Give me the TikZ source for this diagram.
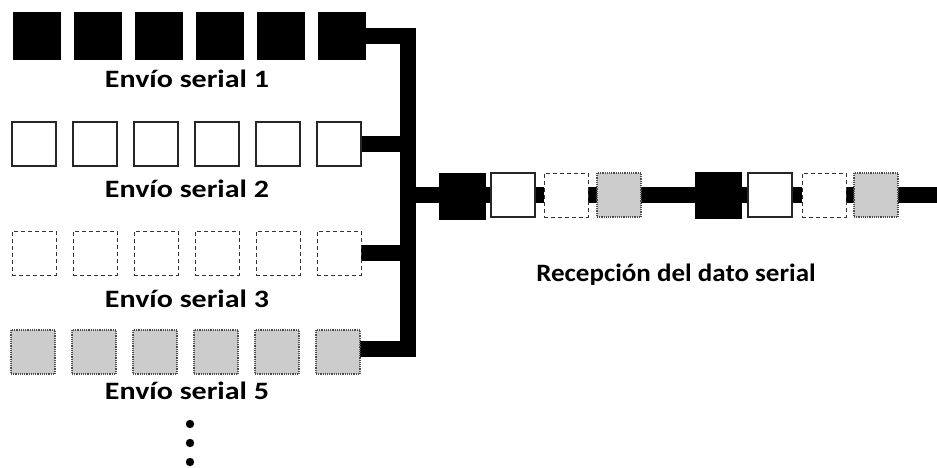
\documentclass[tikz,border=0pt]{standalone}
\usepackage{fontspec}
\setmainfont{Carlito}
\usetikzlibrary{backgrounds}
\newcommand{\widetxt}[2]{\scalebox{#1}[1]{#2}}
\begin{document}
\begin{tikzpicture}[x=1pt,y=-1pt,
  sq/.style={minimum width=#1, minimum height=#1, inner sep=0pt, outer sep=0pt},
  blk/.style={sq=47pt, fill=black, draw=black},
  wht/.style={sq=44pt, fill=white, draw=black!85, line width=1.6pt},
  dsh/.style={sq=44pt, fill=white, draw=black!80, line width=0.9pt, dash pattern=on 4pt off 3pt},
  gry/.style={sq=44pt, fill=black!20, draw=black!70, line width=1.2pt, densely dotted},
  bus/.style={line width=16pt, draw=black, line join=miter, line cap=butt},
  lbl/.style={font=\fontsize{25}{29}\selectfont\bfseries, anchor=base, inner sep=0pt}
]
\useasboundingbox (0,0) rectangle (937,467);
% sender rows
\foreach \i in {1,...,6} {
  \node[blk] (a\i) at ({37+61*(\i-1)},36) {};
  \node[wht] (b\i) at ({34+61*(\i-1)},144) {};
  \node[dsh] (c\i) at ({34+61*(\i-1)},253) {};
  \node[gry] (d\i) at ({33+61*(\i-1)},352) {};
}
\node[lbl] (l1) at (187,87) {\widetxt{1.2}{Envío serial 1}};
\node[lbl] (l2) at (187,197) {\widetxt{1.2}{Envío serial 2}};
\node[lbl] (l3) at (187,307) {\widetxt{1.2}{Envío serial 3}};
\node[lbl] (l5) at (187,399) {\widetxt{1.2}{Envío serial 5}};
\foreach \y [count=\k] in {424,443,462} \fill (190,\y) circle (4.2pt) coordinate (dot\k);
% bus
\coordinate (bx) at (408,0);
\coordinate (out) at (408,195);
\coordinate (oe) at (937,195);
\begin{scope}[on background layer]
\draw[bus] (a6.east) -- (a6.east -| bx) -- ([yshift=3pt]d6.east -| bx) -- ([yshift=3pt]d6.east);
\draw[bus] (b6.east) -- (b6.east -| bx);
\draw[bus] (c6.east) -- (c6.east -| bx);
\draw[bus] (out) -- (oe);
\end{scope}
% received row
\node[blk, sq=46pt] (r1) at (462,196) {};
\node[wht, sq=44pt] (r2) at (513,195) {};
\node[dsh, sq=44pt] (r3) at (566,195) {};
\node[gry, sq=44pt] (r4) at (619,195) {};
\node[blk, sq=46pt] (r5) at (718,195) {};
\node[wht, sq=44pt] (r6) at (770,195) {};
\node[dsh, sq=44pt] (r7) at (824,195) {};
\node[gry, sq=44pt] (r8) at (876,195) {};
\node[lbl] (lr) at (676,281) {\widetxt{1.08}{Recepción del dato serial}};
\end{tikzpicture}
\end{document}
